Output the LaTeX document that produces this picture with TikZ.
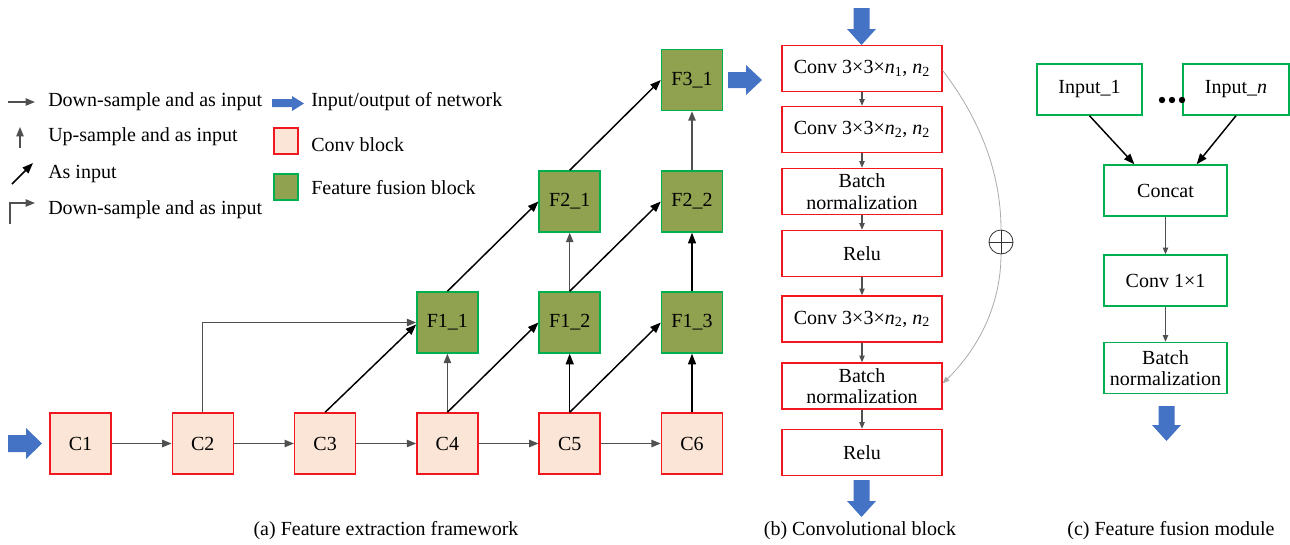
\documentclass[tikz,border=0pt]{standalone}
\usepackage{fontspec}
\setmainfont{Liberation Serif}
\newfontfamily\diagramfont{Liberation Serif}
\usetikzlibrary{arrows.meta,calc}

\definecolor{convfill}{RGB}{251,229,214}
\definecolor{convred}{RGB}{240,24,30}
\definecolor{fusefill}{RGB}{144,161,80}
\definecolor{fusegreen}{RGB}{0,176,80}
\definecolor{arrowblue}{RGB}{68,114,196}
\definecolor{linegray}{RGB}{80,80,80}
\definecolor{skipgray}{RGB}{170,170,170}

\tikzset{
  convbox/.style={draw=convred, fill=convfill, line width=1.1pt,
    minimum width=45.75pt, minimum height=45.75pt, inner sep=0pt},
  fusebox/.style={draw=fusegreen, fill=fusefill, line width=1.1pt,
    minimum width=45.75pt, minimum height=45.75pt, inner sep=0pt},
  layerbox/.style={draw=convred, fill=white, line width=1.1pt,
    minimum width=120pt, minimum height=34.5pt, inner sep=0pt, align=center},
  modbox/.style={draw=fusegreen, fill=white, line width=1.1pt,
    minimum height=38.25pt, inner sep=0pt, align=center},
  gline/.style={draw=linegray, line width=1pt,
    -{Triangle[length=7pt,width=5.5pt]}},
  bline/.style={draw=black, line width=1.1pt,
    -{Triangle[length=8pt,width=6pt]}},
  sline/.style={draw=linegray, line width=0.8pt,
    -{Triangle[length=5pt,width=4pt]}},
  bluearrow/.style={fill=arrowblue},
  legtext/.style={anchor=west, inner sep=0pt},
  caption/.style={inner sep=0pt},
}

\begin{document}
\begin{tikzpicture}[x=0.75pt, y=-0.75pt, font={\diagramfont\fontsize{15}{16}\selectfont}]
\useasboundingbox (0,0) rectangle (1290,544);

% ---------- legend ----------
\draw[gline] (8,102) -- (35,102);
\node[legtext] (lg1) at (48,102) {Down-sample and as input};
\draw[gline] (20,148) -- (20,127);
\node[legtext] (lg2) at (48,137) {Up-sample and as input};
\draw[bline] (12,184) -- (33,163);
\node[legtext] (lg3) at (48,174) {As input};
\draw[gline] (10,224) -- (10,203) -- (35,203);
\node[legtext] (lg4) at (48,210) {Down-sample and as input};

\fill[bluearrow] (272,99) -- (292,99) -- (292,96) -- (304,103.5) -- (292,111) -- (292,107) -- (272,107) -- cycle;
\node[legtext] (lg5) at (311,102) {Input/output of network};
\filldraw[draw=convred, fill=convfill, line width=1.1pt] (274,128) rectangle (298,154);
\node[legtext] (lg6) at (311,145) {Conv block};
\filldraw[draw=fusegreen, fill=fusefill, line width=1.1pt] (274,174) rectangle (298,200);
\node[legtext] (lg7) at (311,188) {Feature fusion block};

% ---------- (a) feature extraction framework ----------
\node[convbox] (C1) at (80.5,443.5) {C1};
\node[convbox] (C2) at (202.8,443.5) {C2};
\node[convbox] (C3) at (325.1,443.5) {C3};
\node[convbox] (C4) at (447.4,443.5) {C4};
\node[convbox] (C5) at (569.7,443.5) {C5};
\node[convbox] (C6) at (692,443.5) {C6};

\node[fusebox] (F11) at (447.4,322.5) {F1\_1};
\node[fusebox] (F12) at (569.7,322.5) {F1\_2};
\node[fusebox] (F13) at (692,322.5) {F1\_3};
\node[fusebox] (F21) at (569.7,201.5) {F2\_1};
\node[fusebox] (F22) at (692,201.5) {F2\_2};
\node[fusebox] (F31) at (692,80) {F3\_1};

\fill[bluearrow] (8,435) -- (26,435) -- (26,428) -- (42,443.5) -- (26,459) -- (26,452) -- (8,452) -- cycle;
\fill[bluearrow] (728,72) -- (746,72) -- (746,65) -- (762,80) -- (746,95) -- (746,88) -- (728,88) -- cycle;

\draw[gline] (C1) -- (C2);
\draw[gline] (C2) -- (C3);
\draw[gline] (C3) -- (C4);
\draw[gline] (C4) -- (C5);
\draw[gline] (C5) -- (C6);

\draw[gline] (C2.north) |- (F11.west);
\draw[bline] (C3.north) -- ([yshift=-1.5pt]F11.west);
\draw[gline] (C4.north) -- (F11.south);
\draw[bline] (C4.north) -- (F12.west);
\draw[bline] (C5.north) -- (F12.south);
\draw[bline] (C5.north) -- (F13.west);
\draw[bline] (C6.north) -- (F13.south);

\draw[bline] (F11.north) -- (F21.west);
\draw[gline] (F12.north) -- (F21.south);
\draw[bline] (F12.north) -- (F22.west);
\draw[bline] (F13.north) -- (F22.south);
\draw[bline] (F21.north) -- (F31.west);
\draw[gline] (F22.north) -- (F31.south);

\node[caption] (capa) at (386,531) {(a) Feature extraction framework};

% ---------- (b) convolutional block ----------
\node[layerbox] (L1) at (862,68.5) {Conv 3×3×\textit{n}\textsubscript{1}, \textit{n}\textsubscript{2}};
\node[layerbox] (L2) at (862,129.5) {Conv 3×3×\textit{n}\textsubscript{2}, \textit{n}\textsubscript{2}};
\node[layerbox] (L3) at (862,191.5) {Batch\\normalization};
\node[layerbox] (L4) at (862,253.5) {Relu};
\node[layerbox] (L5) at (862,319) {Conv 3×3×\textit{n}\textsubscript{2}, \textit{n}\textsubscript{2}};
\node[layerbox] (L6) at (862,386) {Batch\\normalization};
\node[layerbox] (L7) at (862,452.5) {Relu};

\draw[sline] (L1) -- (L2);
\draw[sline] (L2) -- (L3);
\draw[sline] (L3) -- (L4);
\draw[sline] (L4) -- (L5);
\draw[sline] (L5) -- (L6);
\draw[sline] (L6) -- (L7);

\fill[bluearrow] (853.5,8) -- (869.5,8) -- (869.5,29) -- (876,29) -- (861.5,45) -- (847,29) -- (853.5,29) -- cycle;
\fill[bluearrow] (853.5,480) -- (869.5,480) -- (869.5,501) -- (876,501) -- (861.5,517) -- (847,501) -- (853.5,501) -- cycle;

\node[circle, draw=black!80, line width=0.6pt, minimum size=18pt, inner sep=0pt] (plus) at (1001,242) {};
\draw[black!80, line width=0.6pt] (plus.north) -- (plus.south) (plus.west) -- (plus.east);
\draw[skipgray, line width=0.6pt] ([yshift=-1.5pt]L1.east) .. controls (988,130) and (1001,185) .. (plus.north);
\draw[skipgray, line width=0.6pt, -{Triangle[length=5pt,width=4pt]}]
  (plus.south) .. controls (1001,300) and (982,345) .. ([yshift=2pt]L6.east);

\node[caption] (capb) at (860,531) {(b) Convolutional block};

% ---------- (c) feature fusion module ----------
\node[modbox, minimum width=78.75pt] (in1) at (1089.5,89.5) {Input\_1};
\node[modbox, minimum width=79.5pt] (inn) at (1236,89.5) {Input\_\textit{n}};
\foreach \dx in {1162,1172,1182} \fill (\dx,100) circle[radius=3.2];
\node[modbox, minimum width=92.25pt] (cat) at (1165.5,190.5) {Concat};
\node[modbox, minimum width=92.25pt] (c11) at (1165.5,280.5) {Conv 1×1};
\node[modbox, minimum width=92.25pt] (bn) at (1165.5,368) {Batch\\normalization};

\draw[bline] (in1.south) -- ($(cat.north west)!0.25!(cat.north east)$);
\draw[bline] (inn.south) -- ($(cat.north west)!0.75!(cat.north east)$);
\draw[sline] (cat) -- (c11);
\draw[sline] (c11) -- (bn);

\fill[bluearrow] (1158.5,406) -- (1174.5,406) -- (1174.5,425) -- (1181,425) -- (1166.5,441) -- (1152,425) -- (1158.5,425) -- cycle;

\node[caption] (capc) at (1171,531) {(c) Feature fusion module};
\end{tikzpicture}
\end{document}
